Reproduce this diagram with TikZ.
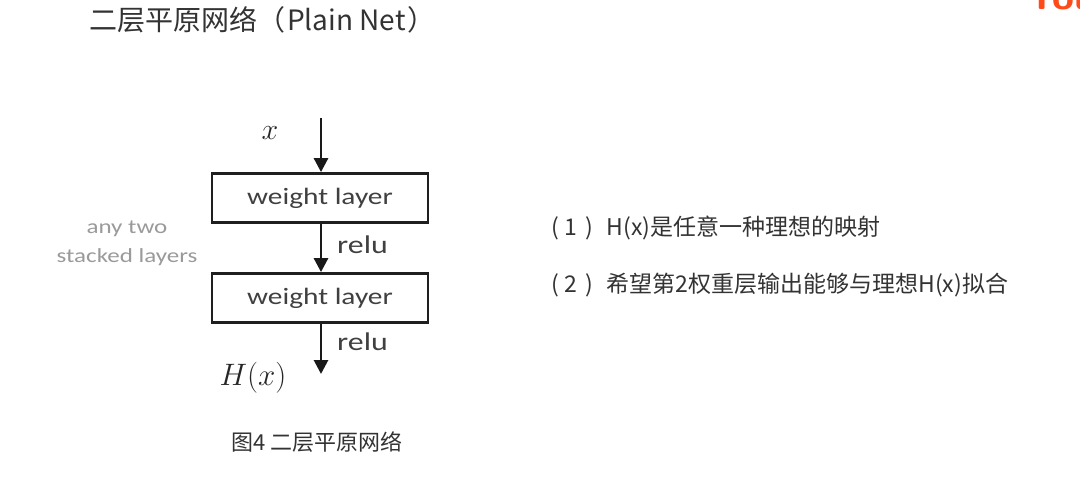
\documentclass[tikz,border=0pt]{standalone}
\usepackage{fix-cm}
\usepackage{fontspec}
\usetikzlibrary{arrows.meta}
\newfontfamily\cjk{Noto Sans CJK SC}
\newfontfamily\calib[FakeStretch=1.25]{Carlito}
\definecolor{titlegray}{HTML}{333333}
\definecolor{boxtext}{HTML}{404040}
\definecolor{lightgray}{HTML}{9A9A9A}
\definecolor{logored}{HTML}{FF4A1A}
\tikzset{
  layerbox/.style={draw=black!88, line width=2.8pt, minimum width=216pt, minimum height=49pt, inner sep=0pt, font=\calib\fontsize{23.5}{26}\selectfont, text=boxtext},
  flow/.style={line width=2.8pt, draw=black!90, -{Triangle[width=14pt,length=14pt]}},
  relulabel/.style={anchor=west, font=\calib\fontsize{25.5}{28}\selectfont, text=boxtext, inner sep=0pt},
  sidetext/.style={font=\calib\fontsize{20}{29}\selectfont, text=lightgray, align=center, inner sep=0pt},
  rtext/.style={anchor=west, font=\cjk\fontsize{23}{27}\selectfont, text=titlegray, inner sep=0pt},
  mathlabel/.style={anchor=center, inner sep=0pt, text=black!85}
}
\begin{document}
\begin{tikzpicture}[x=1pt,y=-1pt]
\useasboundingbox (0,0) rectangle (1080,492);
\fill[white] (0,0) rectangle (1080,492);
% logo fragment
\begin{scope}
\clip (0,0) rectangle (1080,492);
\node[anchor=south west, inner sep=0pt, text=logored, font=\sffamily\bfseries\fontsize{40}{40}\selectfont] (logo) at (1027,10) {You};
\end{scope}
% title
\node[anchor=west, inner sep=0pt, text=titlegray, font=\cjk\fontsize{28}{32}\selectfont] (title) at (89,20) {二层平原网络（\hspace{2pt}Plain Net\hspace{2pt}）};
% diagram
\coordinate (top) at (321,118);
\node[mathlabel, font=\fontsize{30}{32}\selectfont] (xin) at (270,133) {$x$};
\node[layerbox] (w1) at (320,198) {weight layer};
\node[layerbox] (w2) at (320,298) {weight layer};
\coordinate (out) at (321,374);
\draw[flow] (top) -- (w1.north -| top);
\draw[flow] (w1.south -| top) -- (w2.north -| top);
\draw[flow] (w2.south -| top) -- (out);
\node[relulabel] (r1) at (337,245) {relu};
\node[relulabel] (r2) at (337,342) {relu};
\node[mathlabel, font=\fontsize{31}{33}\selectfont] (hx) at (253,378) {$H(x)$};
\node[sidetext] (side) at (127,243) {any two\\stacked layers};
% right texts
\node[rtext] (t1) at (551,228) {(\hspace{6pt}1\hspace{8pt})\hspace{13pt}H(x)是任意一种理想的映射};
\node[rtext] (t2) at (551,285) {(\hspace{6pt}2\hspace{8pt})\hspace{13pt}希望第2权重层输出能够与理想H(x)拟合};
% caption
\node[anchor=west, inner sep=0pt, text=titlegray, font=\cjk\fontsize{22}{26}\selectfont] (cap) at (231,442) {图4 二层平原网络};
\end{tikzpicture}
\end{document}
